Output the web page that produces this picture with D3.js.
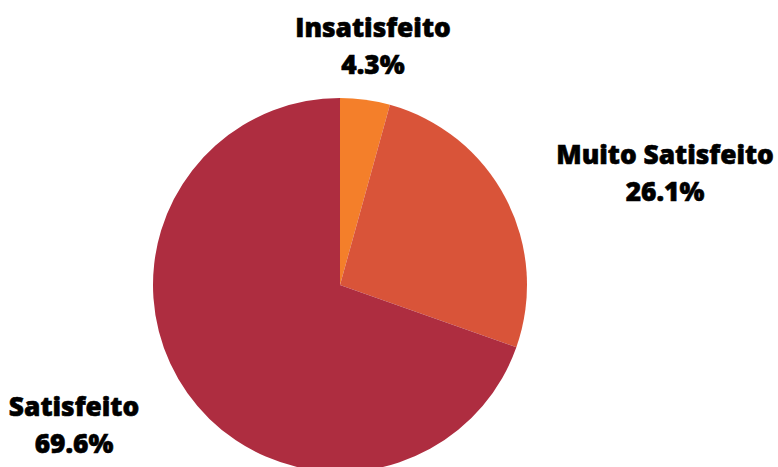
<!DOCTYPE html>
<html><head><meta charset="utf-8">
<script src="https://cdn.jsdelivr.net/npm/d3@7"></script>
<style>body{margin:0;background:#fff}svg{display:block}</style>
</head><body>
<svg id="c" width="778" height="467"></svg>
<script>
const categories = ["Insatisfeito", "Muito Satisfeito", "Satisfeito"];
const values = [4.3, 26.1, 69.6];
const labels = ["4.3%", "26.1%", "69.6%"];
const colors = ["#F47F2A", "#D95439", "#AE2D40"];
const labelPos = [[373, 37], [665, 164], [74, 416]];

const svg = d3.select("#c");
const cx = 340, cy = 285, r = 187;
const pie = d3.pie().sort(null).value(d => d)(values);
const arc = d3.arc().innerRadius(0).outerRadius(r);
const g = svg.append("g").attr("transform", `translate(${cx},${cy})`);
g.selectAll("path").data(pie).join("path")
  .attr("d", arc).attr("fill", (d, i) => colors[i]);

const t = svg.selectAll("text.lab").data(categories).join("text")
  .attr("class", "lab")
  .attr("text-anchor", "middle")
  .attr("font-family", "'Open Sans', sans-serif")
  .attr("font-weight", 800)
  .attr("font-size", 26.3)
  .attr("fill", "#000")
  .attr("stroke", "#000")
  .attr("stroke-width", 0.6)
  .attr("transform", (d, i) => `translate(${labelPos[i][0]},${labelPos[i][1]})`);
t.append("tspan").attr("x", 0).attr("y", 0).text(d => d);
t.append("tspan").attr("x", 0).attr("y", 36.5).text((d, i) => labels[i]);
</script>
</body></html>
